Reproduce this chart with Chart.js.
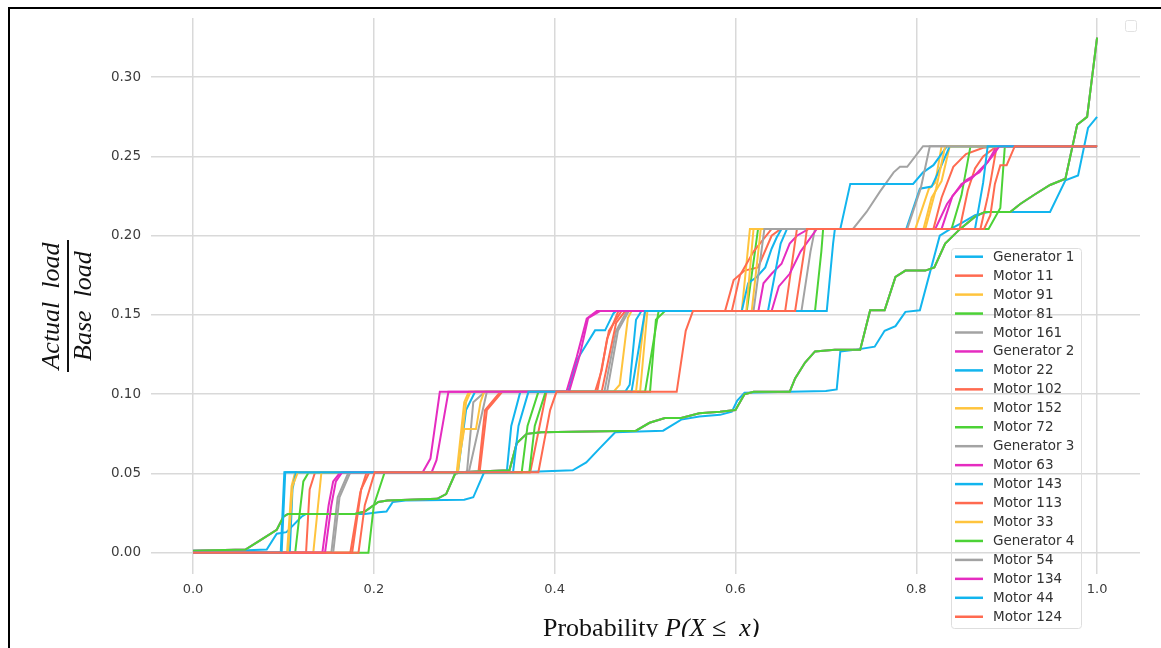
<!DOCTYPE html>
<html>
<head>
<meta charset="utf-8">
<script src="https://cdn.jsdelivr.net/npm/chart.js@4.4.1/dist/chart.umd.min.js"></script>
<style>
  body { margin: 0; background: #fff; }
  #wrap { position: relative; width: 1161px; height: 648px; overflow: hidden; background: #fff; }
  #c { position: absolute; left: 0; top: 0; }
  #frame { position: absolute; left: 8px; top: 7px; right: -5px; bottom: -5px;
    border-top: 2px solid #000; border-left: 2px solid #000; pointer-events: none; }
  #xt { position: absolute; left: 0; top: 600px; width: 1161px; height: 37px; overflow: hidden; }
  #xt div { position: absolute; left: 543px; top: 14.7px; font: 26px/26px "Liberation Serif", serif;
    color: #111; white-space: nowrap; }
  #yt { position: absolute; left: -2px; top: 276px; width: 140px; height: 60px;
    transform: rotate(-90deg); font: italic 26px/26px "Liberation Serif", serif; color: #111; }
  #yt .num, #yt .den { position: absolute; left: 0; width: 140px; text-align: center; white-space: pre; }
  #yt .num { top: 0.2px; }
  #yt .den { top: 32.2px; }
  #yt .bar { position: absolute; left: 4px; top: 29px; width: 132px; height: 2px; background: #111; }
</style>
</head>
<body>
<div id="wrap">
  <canvas id="c" width="1161" height="648"></canvas>
  <div id="yt"><div class="num">Actual  load</div><div class="bar"></div><div class="den">Base  load</div></div>
  <div id="xt"><div>Probability <i>P(X ≤&nbsp; x)</i></div></div>
  <div id="frame"></div>
</div>
<script>
// tick values
const xTicks = [0, 0.2, 0.4, 0.6, 0.8, 1.0];
const yTicks = [0, 0.05, 0.10, 0.15, 0.20, 0.25, 0.30];

const seriesNames = ['Generator 1', 'Motor 11', 'Motor 91', 'Motor 81', 'Motor 161', 'Generator 2',
  'Motor 22', 'Motor 102', 'Motor 152', 'Motor 72', 'Generator 3', 'Motor 63', 'Motor 143',
  'Motor 113', 'Motor 33', 'Generator 4', 'Motor 54', 'Motor 134', 'Motor 44', 'Motor 124'];

const palette = ['#12b5ee', '#ff6a50', '#ffc43d', '#4cd236', '#a3a3a3', '#e52cc0'];

// [probability, actual/base load]
const gen1 = [[0,0.0013],[0.06,0.0016],[0.0815,0.002],[0.0926,0.012],[0.1033,0.013],[0.12,0.0227],[0.125,0.0245],
  [0.19,0.0245],[0.205,0.0255],[0.214,0.026],[0.221,0.032],[0.235,0.033],[0.3,0.0335],[0.31,0.035],[0.322,0.0508],
  [0.36,0.0508],[0.42,0.052],[0.435,0.057],[0.45,0.066],[0.467,0.076],[0.52,0.077],[0.54,0.084],[0.56,0.086],
  [0.583,0.087],[0.596,0.089],[0.602,0.096],[0.61,0.101],[0.66,0.1015],[0.7,0.102],[0.712,0.103],[0.716,0.127],
  [0.732,0.128],[0.754,0.13],[0.765,0.14],[0.777,0.143],[0.788,0.152],[0.804,0.153],[0.826,0.2],[0.837,0.204],
  [0.85,0.208],[0.865,0.213],[0.88,0.215],[0.948,0.215],[0.965,0.235],[0.979,0.238],[0.99,0.268],[1,0.275]];

// generators 2, 3 and 4 lie on top of each other
const genShared = [[0,0.0013],[0.058,0.002],[0.072,0.007],[0.0926,0.0145],[0.1,0.0227],[0.105,0.0245],[0.179,0.0245],
  [0.19,0.026],[0.205,0.032],[0.215,0.033],[0.27,0.034],[0.28,0.037],[0.29,0.05],[0.3,0.051],[0.35,0.052],
  [0.358,0.069],[0.369,0.075],[0.385,0.076],[0.49,0.077],[0.505,0.082],[0.522,0.085],[0.54,0.085],[0.56,0.088],
  [0.583,0.089],[0.6,0.09],[0.61,0.1],[0.62,0.1015],[0.66,0.1015],[0.666,0.11],[0.677,0.12],[0.688,0.127],
  [0.71,0.128],[0.738,0.128],[0.749,0.153],[0.765,0.153],[0.777,0.174],[0.788,0.178],[0.81,0.178],[0.82,0.18],
  [0.832,0.195],[0.848,0.204],[0.865,0.212],[0.876,0.215],[0.904,0.215],[0.915,0.22],[0.931,0.226],[0.948,0.232],
  [0.965,0.236],[0.978,0.27],[0.989,0.275],[1,0.325]];

const m11 = [[0,0],[0.125,0],[0.129,0.04],[0.135,0.0508],[0.3157,0.0508],[0.323,0.09],[0.34,0.1015],[0.447,0.1015],
  [0.46,0.14],[0.474,0.1525],[0.5885,0.1525],[0.598,0.172],[0.61,0.178],[0.625,0.18],[0.64,0.2],[0.65,0.2043],
  [0.819,0.2043],[0.828,0.224],[0.841,0.2435],[0.855,0.2515],[0.874,0.2555],[0.889,0.2565],[1,0.2565]];
const m91 = [[0,0],[0.104,0],[0.109,0.042],[0.113,0.0508],[0.2917,0.0508],[0.3,0.095],[0.305,0.1015],[0.465,0.1015],
  [0.472,0.106],[0.481,0.148],[0.485,0.1525],[0.607,0.1525],[0.616,0.2043],[0.799,0.2043],[0.814,0.2297],
  [0.821,0.2335],[0.828,0.2565],[1,0.2565]];
const m81 = [[0,0],[0.113,0],[0.122,0.045],[0.128,0.0508],[0.3636,0.0508],[0.37,0.08],[0.382,0.1015],[0.5055,0.1015],
  [0.512,0.147],[0.522,0.1525],[0.6125,0.1525],[0.625,0.2043],[0.839,0.2043],[0.85,0.2255],[0.86,0.2565],[1,0.2565]];
const m161 = [[0,0],[0.153,0],[0.16,0.035],[0.172,0.0508],[0.303,0.0508],[0.31,0.095],[0.323,0.1015],[0.455,0.1015],
  [0.468,0.14],[0.48,0.1525],[0.673,0.1525],[0.683,0.19],[0.688,0.2043],[0.73,0.2043],[0.745,0.215],[0.76,0.228],
  [0.775,0.24],[0.782,0.2435],[0.79,0.2435],[0.8075,0.2565],[1,0.2565]];
const m22 = [[0,0],[0.097,0],[0.101,0.0508],[0.293,0.0508],[0.302,0.09],[0.312,0.1015],[0.415,0.1015],[0.4244,0.1214],
  [0.4447,0.1403],[0.4558,0.1403],[0.465,0.151],[0.468,0.1525],[0.607,0.1525],[0.614,0.17],[0.6235,0.174],
  [0.633,0.18],[0.64,0.1918],[0.6457,0.199],[0.651,0.2043],[0.716,0.2043],[0.727,0.2327],[0.7965,0.2327],
  [0.8075,0.24],[0.819,0.2445],[0.824,0.2485],[0.834,0.2565],[1,0.2565]];
const m102 = [[0,0],[0.174,0],[0.185,0.038],[0.192,0.0508],[0.373,0.0508],[0.391,0.1015],[0.4447,0.1015],[0.452,0.115],
  [0.458,0.135],[0.4705,0.1525],[0.596,0.1525],[0.605,0.175],[0.62,0.19],[0.64,0.2043],[0.848,0.2043],
  [0.857,0.2285],[0.865,0.2425],[0.874,0.25],[0.889,0.2565],[1,0.2565]];
const m152 = [[0,0],[0.133,0],[0.142,0.0508],[0.292,0.0508],[0.3,0.078],[0.313,0.078],[0.318,0.095],[0.322,0.1015],
  [0.4945,0.1015],[0.5026,0.1525],[0.612,0.1525],[0.62,0.2043],[0.808,0.2043],[0.817,0.224],[0.828,0.2345],
  [0.837,0.2565],[1,0.2565]];
const m72 = [[0,0],[0.194,0],[0.2,0.03],[0.212,0.0508],[0.372,0.0508],[0.378,0.08],[0.39,0.1015],[0.5,0.1015],
  [0.515,0.1525],[0.688,0.1525],[0.695,0.19],[0.697,0.2043],[0.88,0.2043],[0.893,0.2175],[0.898,0.2565],[1,0.2565]];
const m63 = [[0,0],[0.143,0],[0.15,0.03],[0.155,0.045],[0.163,0.0508],[0.254,0.0508],[0.2626,0.0594],[0.273,0.1015],
  [0.413,0.1015],[0.4244,0.1235],[0.4355,0.1477],[0.4466,0.1525],[0.6254,0.1525],[0.631,0.17],[0.64,0.176],
  [0.651,0.1823],[0.66,0.195],[0.668,0.2],[0.681,0.2043],[0.821,0.2043],[0.834,0.22],[0.85,0.2327],[0.861,0.236],
  [0.879,0.2465],[0.889,0.2565],[1,0.2565]];
const m143 = [[0,0],[0.107,0],[0.11,0.04],[0.114,0.0508],[0.347,0.0508],[0.352,0.08],[0.362,0.1015],[0.478,0.1015],
  [0.483,0.106],[0.49,0.147],[0.496,0.1525],[0.636,0.1525],[0.65,0.195],[0.657,0.2043],[0.789,0.2043],
  [0.804,0.2297],[0.817,0.231],[0.828,0.2445],[0.837,0.2565],[1,0.2565]];
const m113 = [[0,0],[0.176,0],[0.186,0.04],[0.195,0.0508],[0.317,0.0508],[0.325,0.09],[0.342,0.1015],[0.452,0.1015],
  [0.468,0.145],[0.478,0.1525],[0.655,0.1525],[0.668,0.2043],[0.871,0.2043],[0.879,0.2245],[0.882,0.2335],
  [0.889,0.2565],[1,0.2565]];
const m33 = [[0,0],[0.105,0],[0.11,0.042],[0.116,0.0508],[0.293,0.0508],[0.302,0.095],[0.307,0.1015],[0.49,0.1015],
  [0.5,0.1525],[0.618,0.1525],[0.628,0.2043],[0.81,0.2043],[0.822,0.23],[0.832,0.2565],[1,0.2565]];
const m54 = [[0,0],[0.155,0],[0.162,0.035],[0.174,0.0508],[0.305,0.0508],[0.325,0.1015],[0.458,0.1015],[0.47,0.14],
  [0.482,0.1525],[0.62,0.1525],[0.632,0.2043],[0.79,0.2043],[0.805,0.23],[0.815,0.2565],[1,0.2565]];
const m134 = [[0,0],[0.146,0],[0.153,0.03],[0.158,0.045],[0.165,0.0508],[0.264,0.0508],[0.2693,0.0584],[0.2825,0.1015],
  [0.416,0.1015],[0.428,0.125],[0.437,0.148],[0.45,0.1525],[0.64,0.1525],[0.648,0.168],[0.66,0.176],[0.672,0.19],
  [0.69,0.2043],[0.828,0.2043],[0.84,0.225],[0.855,0.235],[0.87,0.24],[0.884,0.25],[0.892,0.2565],[1,0.2565]];
const m44 = [[0,0],[0.098,0],[0.102,0.0508],[0.354,0.0508],[0.36,0.08],[0.371,0.1015],[0.485,0.1015],[0.5,0.1525],
  [0.701,0.1525],[0.708,0.195],[0.71,0.2043],[0.865,0.2043],[0.874,0.2335],[0.879,0.2565],[1,0.2565]];
const m124 = [[0,0],[0.183,0],[0.19,0.03],[0.201,0.0508],[0.382,0.0508],[0.395,0.09],[0.402,0.1015],[0.535,0.1015],
  [0.545,0.14],[0.553,0.1525],[0.666,0.1525],[0.676,0.19],[0.679,0.2043],[0.875,0.2043],[0.882,0.213],
  [0.887,0.2327],[0.893,0.2445],[0.9,0.2445],[0.909,0.2565],[1,0.2565]];

const seriesPoints = [gen1, m11, m91, m81, m161, genShared, m22, m102, m152, m72, genShared, m63, m143,
  m113, m33, genShared, m54, m134, m44, m124];

const datasets = seriesNames.map((name, i) => ({
  label: name,
  data: seriesPoints[i].map((p) => ({ x: p[0], y: p[1] })),
  borderColor: palette[i % palette.length],
  backgroundColor: palette[i % palette.length],
  borderWidth: 2,
  pointRadius: 0,
  fill: false,
  tension: 0,
  order: seriesNames.length - i, // later series on top, like the original
}));

const legendBox = {
  id: 'legendBox',
  afterDraw(chart) {
    const ctx = chart.ctx;
    ctx.save();
    ctx.strokeStyle = '#dedede';
    ctx.lineWidth = 1;
    ctx.beginPath();
    ctx.roundRect(951.5, 248.5, 130, 380, 3);
    ctx.stroke();
    ctx.font = '13.5px "DejaVu Sans"';
    ctx.textBaseline = 'middle';
    chart.data.datasets.forEach((ds, i) => {
      const y = 256.7 + i * 18.95;
      ctx.strokeStyle = ds.borderColor;
      ctx.lineWidth = 2.5;
      ctx.beginPath();
      ctx.moveTo(955, y);
      ctx.lineTo(983, y);
      ctx.stroke();
      ctx.fillStyle = '#333';
      ctx.fillText(ds.label, 993, y + 0.5);
    });
    // empty legend stub in the corner
    ctx.strokeStyle = '#e2e2e2';
    ctx.lineWidth = 1;
    ctx.beginPath();
    ctx.roundRect(1125.5, 20.5, 11, 11, 2);
    ctx.stroke();
    ctx.restore();
  },
};

new Chart(document.getElementById('c'), {
  type: 'line',
  data: { datasets },
  plugins: [legendBox],
  options: {
    responsive: false,
    animation: false,
    layout: { padding: { top: 10, right: 21, left: 0, bottom: 0 } },
    plugins: { legend: { display: false }, tooltip: { enabled: false } },
    scales: {
      x: {
        type: 'linear',
        min: -0.0465,
        max: 1.0475,
        afterBuildTicks: (s) => { s.ticks = xTicks.map((v) => ({ value: v })); },
        afterFit: (s) => { s.height = 74; },
        grid: { color: '#d9d9d9', lineWidth: 1.5, drawTicks: false },
        border: { display: false },
        ticks: { padding: 8, color: '#3c3c3c', maxRotation: 0, font: { family: 'DejaVu Sans', size: 13 },
          callback: (v) => v.toFixed(1) },
      },
      y: {
        min: -0.0134,
        max: 0.3373,
        afterBuildTicks: (s) => { s.ticks = yTicks.map((v) => ({ value: v })); },
        afterFit: (s) => { s.width = 151; },
        grid: { color: '#d9d9d9', lineWidth: 1.5, drawTicks: false },
        border: { display: false },
        ticks: { padding: 10, color: '#3c3c3c', font: { family: 'DejaVu Sans', size: 13.5 },
          callback: (v) => v.toFixed(2) },
      },
    },
  },
});
</script>
</body>
</html>
